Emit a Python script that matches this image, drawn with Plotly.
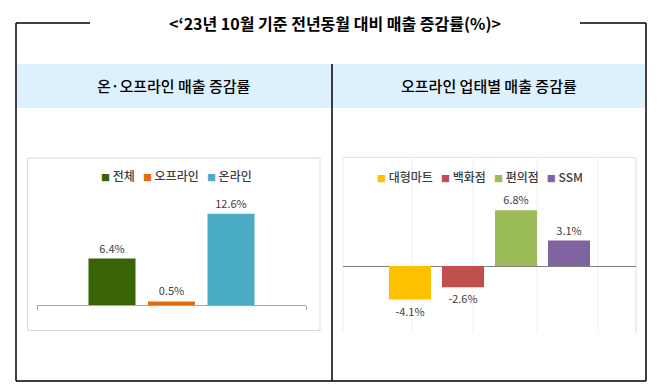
import plotly.graph_objects as go

W, H = 660, 392

# ---------------- data ----------------
title_text = "<‘23년 10월 기준 전년동월 대비 매출 증감률(%)>"
left_heading = "온·오프라인 매출 증감률"
right_heading = "오프라인 업태별 매출 증감률"

period = ["'23.10"]

left_names = ["전체", "오프라인", "온라인"]
left_values = [6.4, 0.5, 12.6]
left_colors = ["#386405", "#E46C0A", "#4BACC6"]

right_names = ["대형마트", "백화점", "편의점", "SSM"]
right_values = [-4.1, -2.6, 6.8, 3.1]
right_colors = ["#FFC000", "#C0504D", "#9BBB59", "#8064A2"]

FONT = "Noto Sans CJK KR"


def px(x):
    return x / W


def py(y):
    return 1 - y / H


fig = go.Figure()

# ---------------- left chart bars ----------------
L_x0, L_x1 = 37, 306
L_w = 47 / (L_x1 - L_x0)
L_pitch = 59.5 / (L_x1 - L_x0)
n = len(left_names)
for i, (nm, v, c) in enumerate(zip(left_names, left_values, left_colors)):
    fig.add_trace(go.Bar(
        x=period, y=[v], name=nm, marker_color=c, marker_line_width=0,
        width=L_w, offset=(i - (n - 1) / 2) * L_pitch - L_w / 2,
        text=[f"{v:.1f}%"], textposition="outside",
        textfont=dict(size=11, color="#404040", family=FONT),
        cliponaxis=False, xaxis="x", yaxis="y", showlegend=False,
    ))

# ---------------- right chart bars ----------------
R_x0, R_x1 = 343, 636
R_w = 42 / (R_x1 - R_x0)
R_pitch = 53 / (R_x1 - R_x0)
m = len(right_names)
for i, (nm, v, c) in enumerate(zip(right_names, right_values, right_colors)):
    fig.add_trace(go.Bar(
        x=period, y=[v], name=nm, marker_color=c, marker_line_width=0,
        width=R_w, offset=(i - (m - 1) / 2) * R_pitch - R_w / 2,
        text=[f"{v:.1f}%"], textposition="outside",
        textfont=dict(size=11, color="#404040", family=FONT),
        cliponaxis=False, xaxis="x2", yaxis="y2", showlegend=False,
    ))

L_zero, L_top = 305, 190
L_scale = 7.25
R_zero, R_top, R_bot = 266, 158, 333
R_scale = 8.2

fig.update_layout(
    width=W, height=H, margin=dict(l=0, r=0, t=0, b=0),
    paper_bgcolor="white", plot_bgcolor="rgba(0,0,0,0)",
    barmode="overlay", showlegend=False,
    font=dict(family=FONT),
    xaxis=dict(domain=[px(L_x0), px(L_x1)], anchor="y", type="category",
               showline=True, linecolor="#A6A6A6", linewidth=1,
               ticks="outside", tickson="boundaries", ticklen=4, tickcolor="#A6A6A6",
               showticklabels=False, showgrid=False, zeroline=False, fixedrange=True),
    yaxis=dict(domain=[py(L_zero), py(L_top)], anchor="x",
               range=[0, (L_zero - L_top) / L_scale],
               visible=False, showgrid=False, zeroline=False),
    xaxis2=dict(domain=[px(R_x0), px(R_x1)], anchor="y2", type="category",
                showline=False, showticklabels=False, ticks="",
                showgrid=False, zeroline=False),
    yaxis2=dict(domain=[py(R_bot), py(R_top)], anchor="x2",
                range=[-(R_bot - R_zero) / R_scale, (R_zero - R_top) / R_scale],
                showgrid=False, showticklabels=False, showline=False,
                zeroline=True, zerolinecolor="#808080", zerolinewidth=1),
)

shapes = []
# light blue heading band
shapes.append(dict(type="rect", xref="paper", yref="paper",
                   x0=px(17), x1=px(645), y0=py(108), y1=py(64),
                   fillcolor="#DDF1FC", line_width=0, layer="below"))
# faint sheet gridlines behind right chart
for gx in [412, 473, 537, 598]:
    shapes.append(dict(type="line", xref="paper", yref="paper",
                       x0=px(gx), x1=px(gx), y0=py(R_bot), y1=py(R_top),
                       line=dict(color="#F0F0F0", width=1), layer="below"))
# right chart border (top, left, right)
shapes.append(dict(type="line", xref="paper", yref="paper",
                   x0=px(343), x1=px(636), y0=py(157.5), y1=py(157.5),
                   line=dict(color="#E3E3E3", width=1), layer="below"))
shapes.append(dict(type="line", xref="paper", yref="paper",
                   x0=px(343), x1=px(343), y0=py(R_bot), y1=py(157.5),
                   line=dict(color="#EDEDED", width=1), layer="below"))
shapes.append(dict(type="line", xref="paper", yref="paper",
                   x0=px(636), x1=px(636), y0=py(R_bot), y1=py(157.5),
                   line=dict(color="#D9D9D9", width=1), layer="below"))
# left chart border box
shapes.append(dict(type="rect", xref="paper", yref="paper",
                   x0=px(27.5), x1=px(320), y0=py(330.5), y1=py(158),
                   line=dict(color="#D9D9D9", width=1), layer="below"))
# outer frame
blk = dict(color="black", width=1.5)
shapes += [
    dict(type="line", xref="paper", yref="paper", x0=px(16), x1=px(90), y0=py(23), y1=py(23), line=blk),
    dict(type="line", xref="paper", yref="paper", x0=px(580), x1=px(646), y0=py(23), y1=py(23), line=blk),
    dict(type="line", xref="paper", yref="paper", x0=px(16), x1=px(16), y0=py(381), y1=py(23), line=blk),
    dict(type="line", xref="paper", yref="paper", x0=px(646), x1=px(646), y0=py(381), y1=py(23), line=blk),
    dict(type="line", xref="paper", yref="paper", x0=px(16), x1=px(646), y0=py(381), y1=py(381), line=blk),
    dict(type="line", xref="paper", yref="paper", x0=px(332), x1=px(332), y0=py(381), y1=py(64), line=blk),
]
fig.update_layout(shapes=shapes)


def legend_html(names, colors):
    parts = []
    for nm, c in zip(names, colors):
        parts.append(f'<span style="color:{c};font-size:9px">■</span> {nm}')
    return "&nbsp;&nbsp;&nbsp;".join(parts)


annotations = [
    dict(text=f"<b>{title_text}</b>", x=px(335), y=py(23), xref="paper", yref="paper",
         showarrow=False, xanchor="center", yanchor="middle",
         font=dict(size=16, color="black", family=FONT)),
    dict(text=left_heading, x=px(174), y=py(86), xref="paper", yref="paper",
         showarrow=False, xanchor="center", yanchor="middle",
         font=dict(size=15, color="black", family=FONT, weight=500)),
    dict(text=right_heading, x=px(489), y=py(86), xref="paper", yref="paper",
         showarrow=False, xanchor="center", yanchor="middle",
         font=dict(size=15, color="black", family=FONT, weight=500)),
    dict(text=legend_html(left_names, left_colors), x=px(176), y=py(175),
         xref="paper", yref="paper", showarrow=False, xanchor="center", yanchor="middle",
         font=dict(size=12, color="#404040", family=FONT, weight=500)),
    dict(text=legend_html(right_names, right_colors), x=px(480), y=py(176),
         xref="paper", yref="paper", showarrow=False, xanchor="center", yanchor="middle",
         font=dict(size=12, color="#404040", family=FONT, weight=500)),
]
fig.update_layout(annotations=annotations)

fig.write_html("out.html", config=dict(displayModeBar=False),
               post_script="document.body.style.margin='0';document.body.style.padding='0';")
